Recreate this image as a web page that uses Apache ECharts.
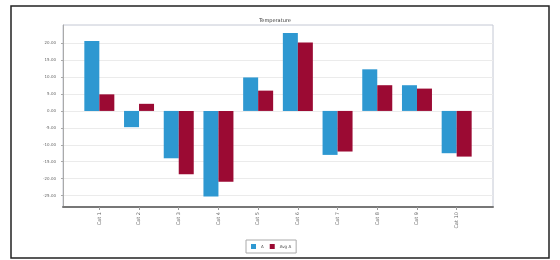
<!DOCTYPE html>
<html>
<head>
<meta charset="utf-8">
<script src="https://cdn.jsdelivr.net/npm/echarts@6/dist/echarts.min.js"></script>
<style>html,body{margin:0;padding:0;background:#fff;}#c{width:560px;height:260px;}</style>
</head>
<body>
<div id="c"></div>
<script>
var categories = ['Cat 1','Cat 2','Cat 3','Cat 4','Cat 5','Cat 6','Cat 7','Cat 8','Cat 9','Cat 10'];
var seriesNames = ['A', 'Avg A'];
var seriesA = [20.7, -4.8, -14.0, -25.3, 9.9, 23.0, -13.0, 12.3, 7.6, -12.5];
var seriesB = [4.9, 2.1, -18.7, -20.9, 6.0, 20.2, -12.0, 7.6, 6.6, -13.5];
var yTicks = [-25, -20, -15, -10, -5, 0, 5, 10, 15, 20];

var idx = categories.map(function(c, i){ return i; });
function pairs(arr){ return arr.map(function(v, i){ return [i, v]; }); }

var chart = echarts.init(document.getElementById('c'), null, {renderer:'canvas'});
chart.setOption({
  animation: false,
  backgroundColor: '#fff',
  textStyle: {fontFamily: 'DejaVu Sans'},
  title: {
    text: 'Temperature', left: 270, top: 13, textAlign: 'center',
    textStyle: {fontSize: 5, fontWeight: 'normal', color: '#333'}
  },
  graphic: [{
    type: 'rect', shape: {x: 11, y: 6, width: 538, height: 252},
    style: {fill: 'none', stroke: '#222', lineWidth: 1.5}, silent: true, z: 100
  }],
  legend: {
    bottom: 7, left: 246, itemWidth: 5, itemHeight: 5, itemGap: 6,
    padding: [4, 5], borderColor: '#aaa', borderWidth: 1,
    icon: 'rect', textStyle: {fontSize: 4, color: '#444'},
    data: seriesNames
  },
  grid: {
    left: 63, right: 67, top: 25, bottom: 53, show: true,
    borderColor: '#c4c8d4', borderWidth: 1, backgroundColor: '#fff'
  },
  xAxis: {
    type: 'value', min: -0.915, max: 9.915,
    splitLine: {show: false},
    axisLine: {show: true, onZero: false, lineStyle: {color: '#777', width: 2}},
    axisTick: {show: true, customValues: idx, length: 3, lineStyle: {color: '#999'}},
    axisLabel: {
      customValues: idx, rotate: 90, fontSize: 5, color: '#666', margin: 5,
      formatter: function(v){ return categories[Math.round(v)]; }
    }
  },
  yAxis: {
    type: 'value', min: -28.4, max: 25.4,
    axisLine: {show: true, onZero: false, lineStyle: {color: '#aaa'}},
    axisTick: {show: true, customValues: yTicks, length: 2, lineStyle: {color: '#aaa'}},
    axisLabel: {
      customValues: yTicks, fontSize: 4, color: '#666', margin: 7,
      formatter: function(v){ return v.toFixed(2); }
    },
    splitLine: {show: true, lineStyle: {color: '#ebebeb', width: 1}}
  },
  color: ['#2e98d1', '#9b0a33'],
  series: [
    {name: seriesNames[0], type: 'bar', barWidth: 15, barGap: '0%', data: pairs(seriesA)},
    {name: seriesNames[1], type: 'bar', barWidth: 15, barGap: '0%', data: pairs(seriesB)}
  ]
});
</script>
</body>
</html>
